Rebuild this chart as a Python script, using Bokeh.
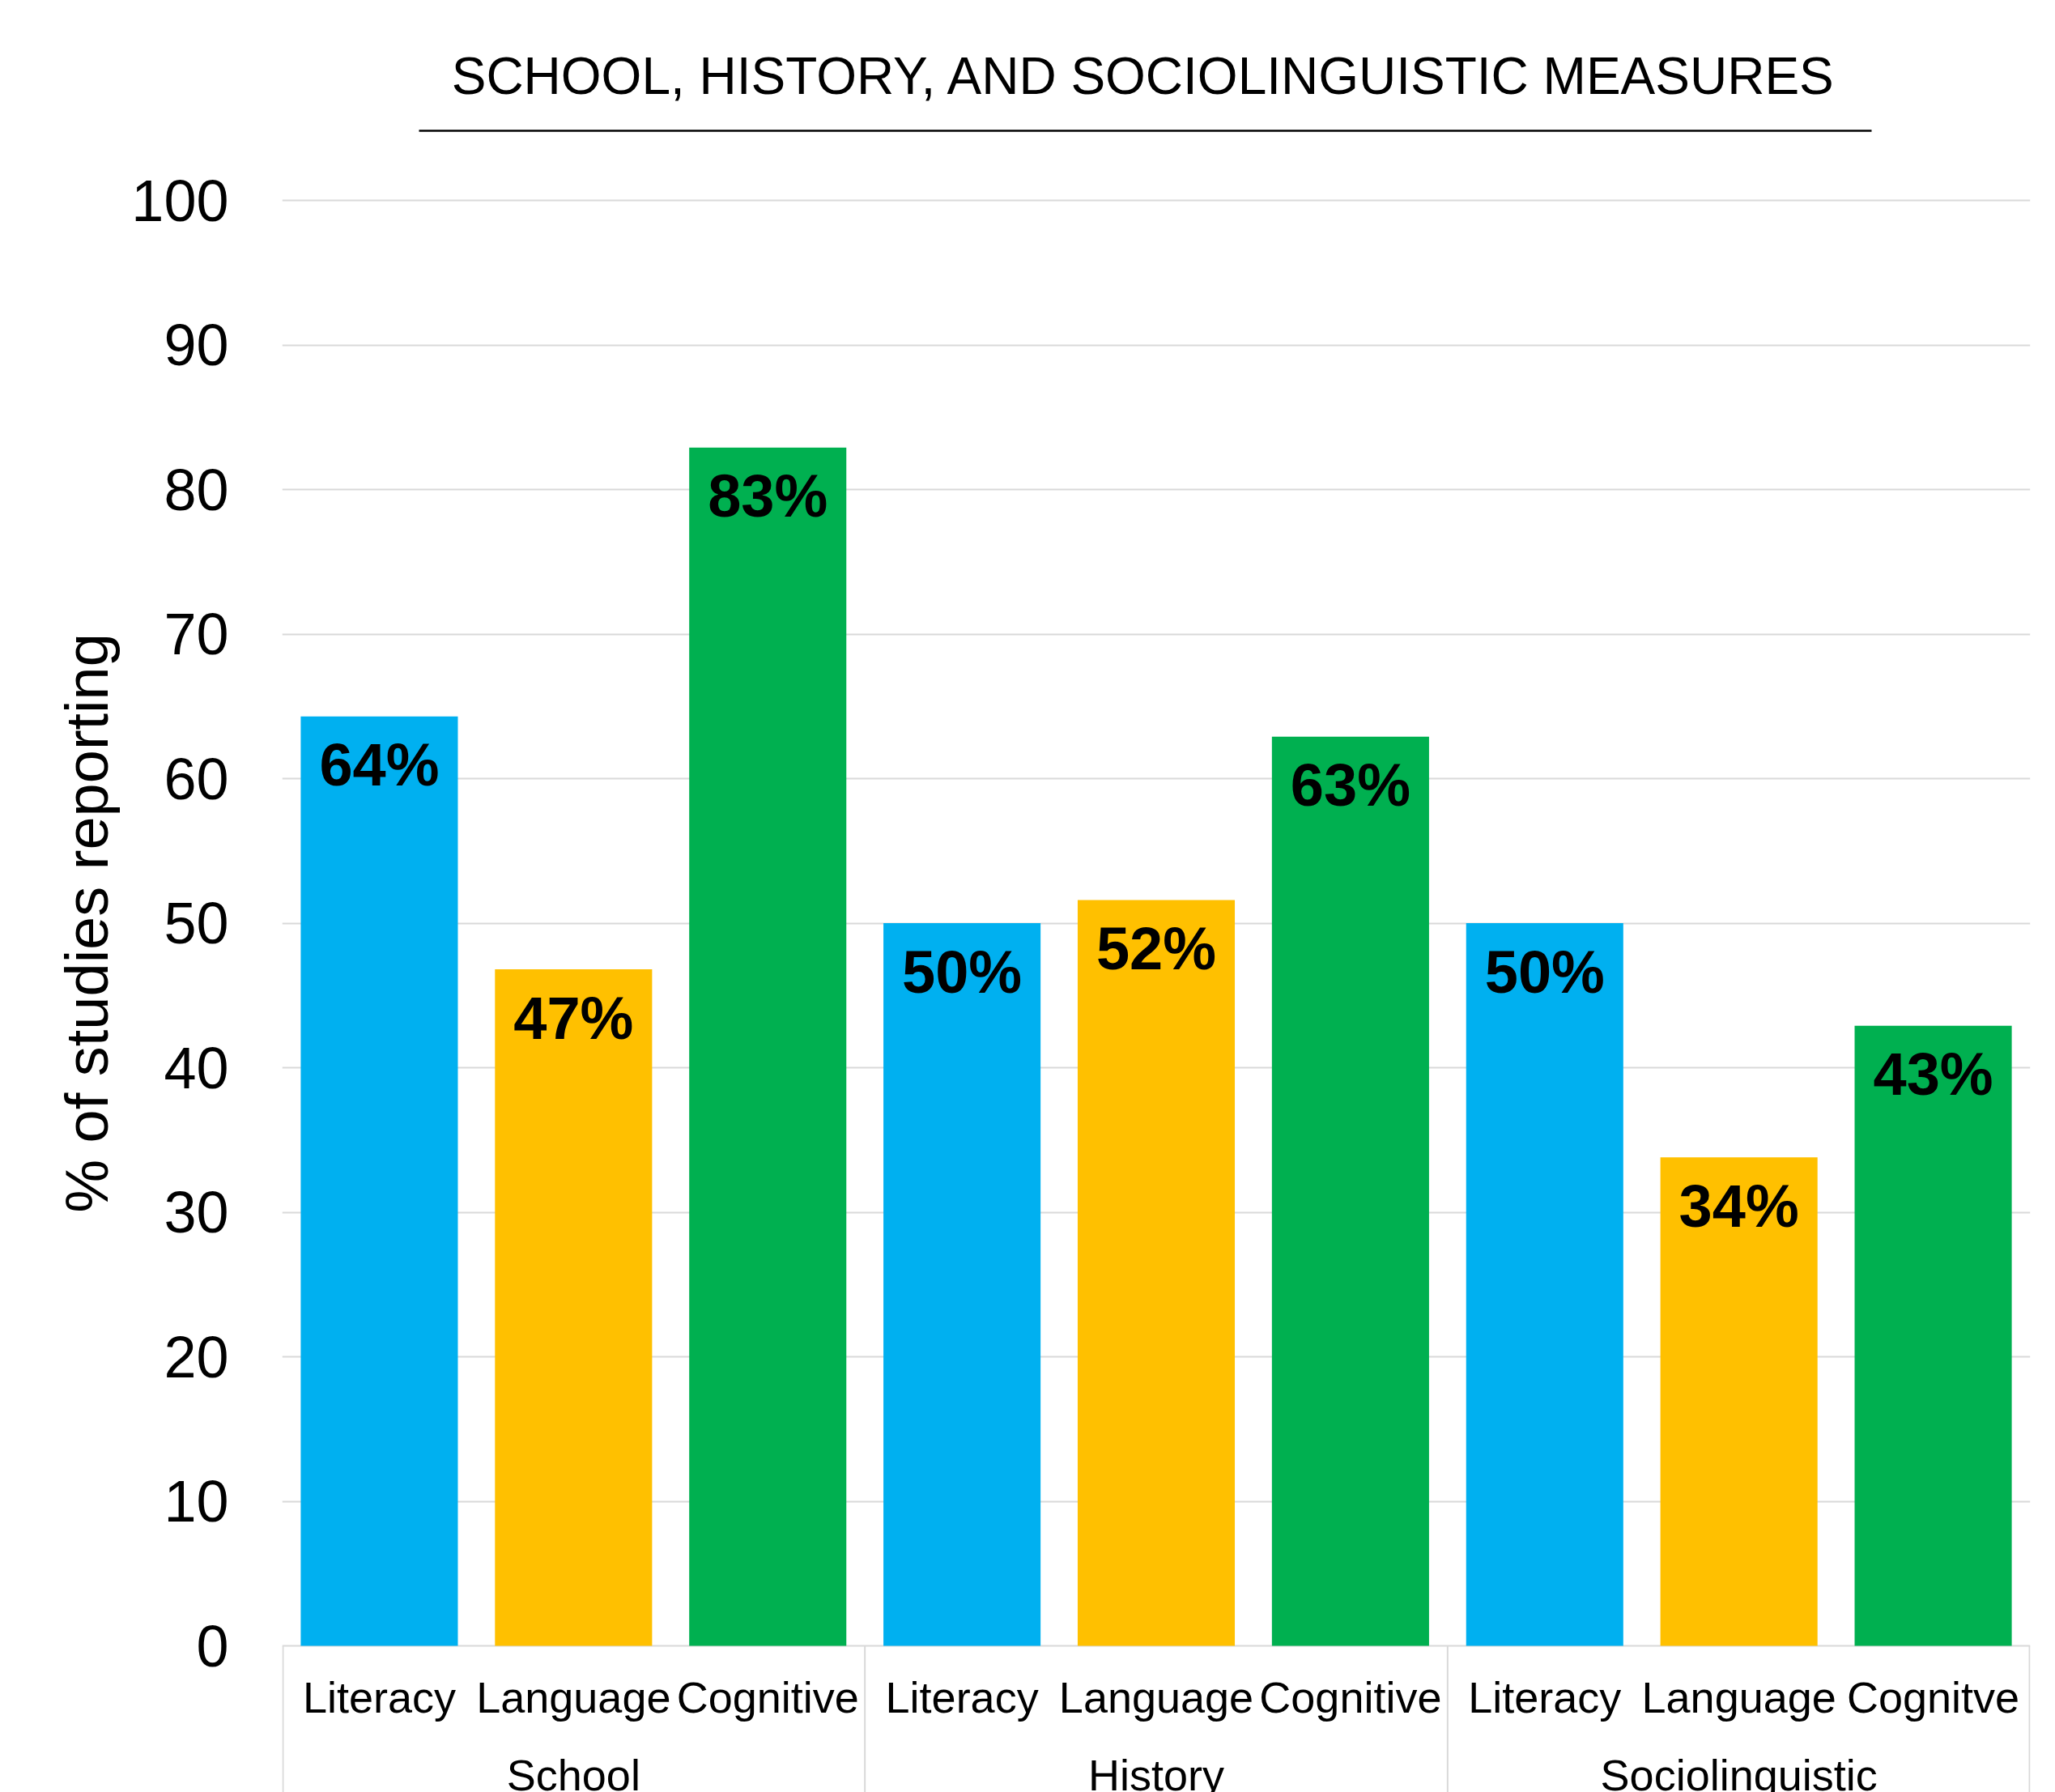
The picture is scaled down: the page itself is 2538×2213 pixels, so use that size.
from bokeh.plotting import figure
from bokeh.models import FactorRange, Range1d, FixedTicker, ColumnDataSource
from bokeh.core.properties import value
from bokeh.embed import file_html
from bokeh.resources import INLINE

# ---------------- data ----------------
title_text = "SCHOOL, HISTORY, AND SOCIOLINGUISTIC MEASURES"
y_label = "% of studies reporting"
groups = ["School", "History", "Sociolinguistic"]
measures = [
    ["Literacy", "Language", "Cognitive"],
    ["Literacy", "Language", "Cognitive"],
    ["Literacy", "Language", "Cognitve"],
]
values = [64.3, 46.8, 82.9, 50.0, 51.6, 62.9, 50.0, 33.8, 42.9]
value_labels = ["64%", "47%", "83%", "50%", "52%", "63%", "50%", "34%", "43%"]
measure_colors = ["#00B0F0", "#FFC000", "#00B050"]
y_ticks = [0, 10, 20, 30, 40, 50, 60, 70, 80, 90, 100]

# ---------------- layout constants ----------------
W, H = 2538, 2213
LEFT, RIGHT_PAD, TOP = 348, 31, 66
Y0_PX = 2032.0          # screen row of value 0
PPU = 17.85             # pixels per unit on y
FONT_NAME = "Liberation Sans"
FONT = value(FONT_NAME)

def ydata(px):
    return (Y0_PX - px) / PPU

factors = [(g, m) for g, ms in zip(groups, measures) for m in ms]
colors = [measure_colors[i % 3] for i in range(len(factors))]

src = ColumnDataSource(dict(x=factors, top=values, lab=value_labels, color=colors))

x_range = FactorRange(*factors, group_padding=0, factor_padding=0, range_padding=0)
y_range = Range1d(ydata(H), ydata(TOP))

p = figure(width=W, height=H, x_range=x_range, y_range=y_range,
           output_backend="svg", toolbar_location=None,
           x_axis_location=None, min_border_left=LEFT, min_border_right=RIGHT_PAD,
           min_border_top=TOP, min_border_bottom=0)
p.title.visible = False
p.outline_line_color = None
p.background_fill_color = "white"
p.border_fill_color = "white"

# y axis
ax = p.yaxis[0]
ax.ticker = FixedTicker(ticks=y_ticks)
ax.axis_line_color = None
ax.major_tick_line_color = None
ax.minor_tick_line_color = None
ax.major_label_text_font = FONT_NAME
ax.major_label_text_font_size = "72px"
ax.major_label_text_color = "black"
ax.major_label_standoff = 60
ax.axis_label = y_label
ax.axis_label_text_font = FONT_NAME
ax.axis_label_text_font_size = "74px"
ax.axis_label_text_font_style = "normal"
ax.axis_label_text_color = "black"
ax.axis_label_standoff = 10

p.xgrid.visible = False
p.ygrid.ticker = FixedTicker(ticks=y_ticks)
p.ygrid.grid_line_color = "#D9D9D9"
p.ygrid.grid_line_width = 2

# bars
p.vbar(x="x", top="top", bottom=0, width=0.809, color="color", line_color=None, source=src)

# value labels
p.text(x="x", y="top", text="lab", source=src, text_align="center",
       text_baseline="alphabetic", y_offset=60, text_font=FONT,
       text_font_size="74px", text_font_style="bold", text_color="black")

# category labels
p.text(x=factors, y=[0] * len(factors), text=[f[1] for f in factors],
       text_align="center", text_baseline="alphabetic", y_offset=63,
       text_font=FONT, text_font_size="54px", text_color="black")

# group labels
mid_factors = [(g, ms[1]) for g, ms in zip(groups, measures)]
p.text(x=mid_factors, y=[0] * len(groups), text=groups,
       text_align="center", text_baseline="alphabetic", y_offset=159,
       text_font=FONT, text_font_size="54px", text_color="black")

# group separators (from group sizes)
bounds = [0]
for ms in measures:
    bounds.append(bounds[-1] + len(ms))
sep_x = [b + (0.004 if i == 0 else (-0.004 if i == len(bounds) - 1 else 0)) for i, b in enumerate(bounds)]
p.segment(x0=sep_x, x1=sep_x, y0=[0] * len(sep_x), y1=[ydata(H + 10)] * len(sep_x),
          line_color="#D9D9D9", line_width=2)

# title and underline
p.text(x=[("History", "Language")], y=[ydata(93)], text=[title_text],
       text_align="center", text_baseline="alphabetic", x_offset=-15,
       text_font=FONT, text_font_size="64px", text_color="black")
p.segment(x0=[(517 - LEFT) / ((W - LEFT - RIGHT_PAD) / 9)],
          x1=[(2311 - LEFT) / ((W - LEFT - RIGHT_PAD) / 9)],
          y0=[ydata(161)], y1=[ydata(161)], line_color="black", line_width=2.5)

open("out.html", "w").write(file_html(p, INLINE))
